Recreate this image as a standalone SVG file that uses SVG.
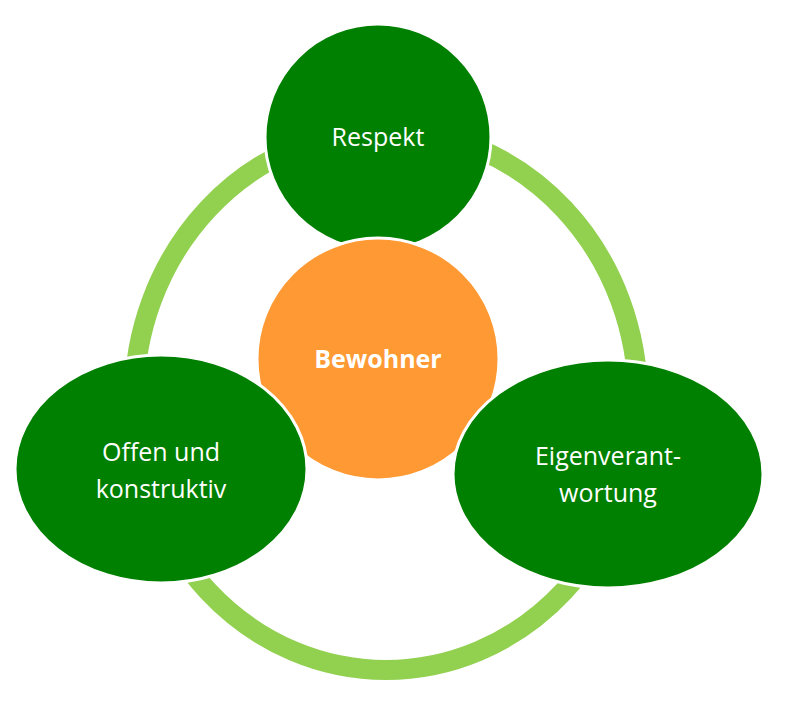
<svg xmlns="http://www.w3.org/2000/svg" width="785" height="722" viewBox="0 0 785 722">
<style>
.n{fill:#008000;stroke:#fff;stroke-width:3}
.t{fill:#fff;font-family:"Open Sans","Liberation Sans",sans-serif;font-size:25px;text-anchor:middle}
</style>
<rect width="785" height="722" fill="#fff"/>
<g id="connectors"><ellipse cx="386" cy="400" rx="252" ry="270" fill="none" stroke="#92D050" stroke-width="20"/></g>
<g id="respekt"><circle class="n" cx="378" cy="137" r="113"/><text class="t" x="378" y="146">Respekt</text></g>
<g id="bewohner"><circle cx="378" cy="359" r="121" fill="#FF9933" stroke="#fff" stroke-width="3"/><text class="t" x="378" y="368" font-weight="bold">Bewohner</text></g>
<g id="offen"><ellipse class="n" cx="161" cy="469" rx="146" ry="114"/><text class="t" x="161" y="461">Offen und</text><text class="t" x="161" y="498">konstruktiv</text></g>
<g id="eigen"><ellipse class="n" cx="608" cy="474" rx="155" ry="114"/><text class="t" x="608" y="465">Eigenverant-</text><text class="t" x="608" y="502">wortung</text></g>
</svg>
